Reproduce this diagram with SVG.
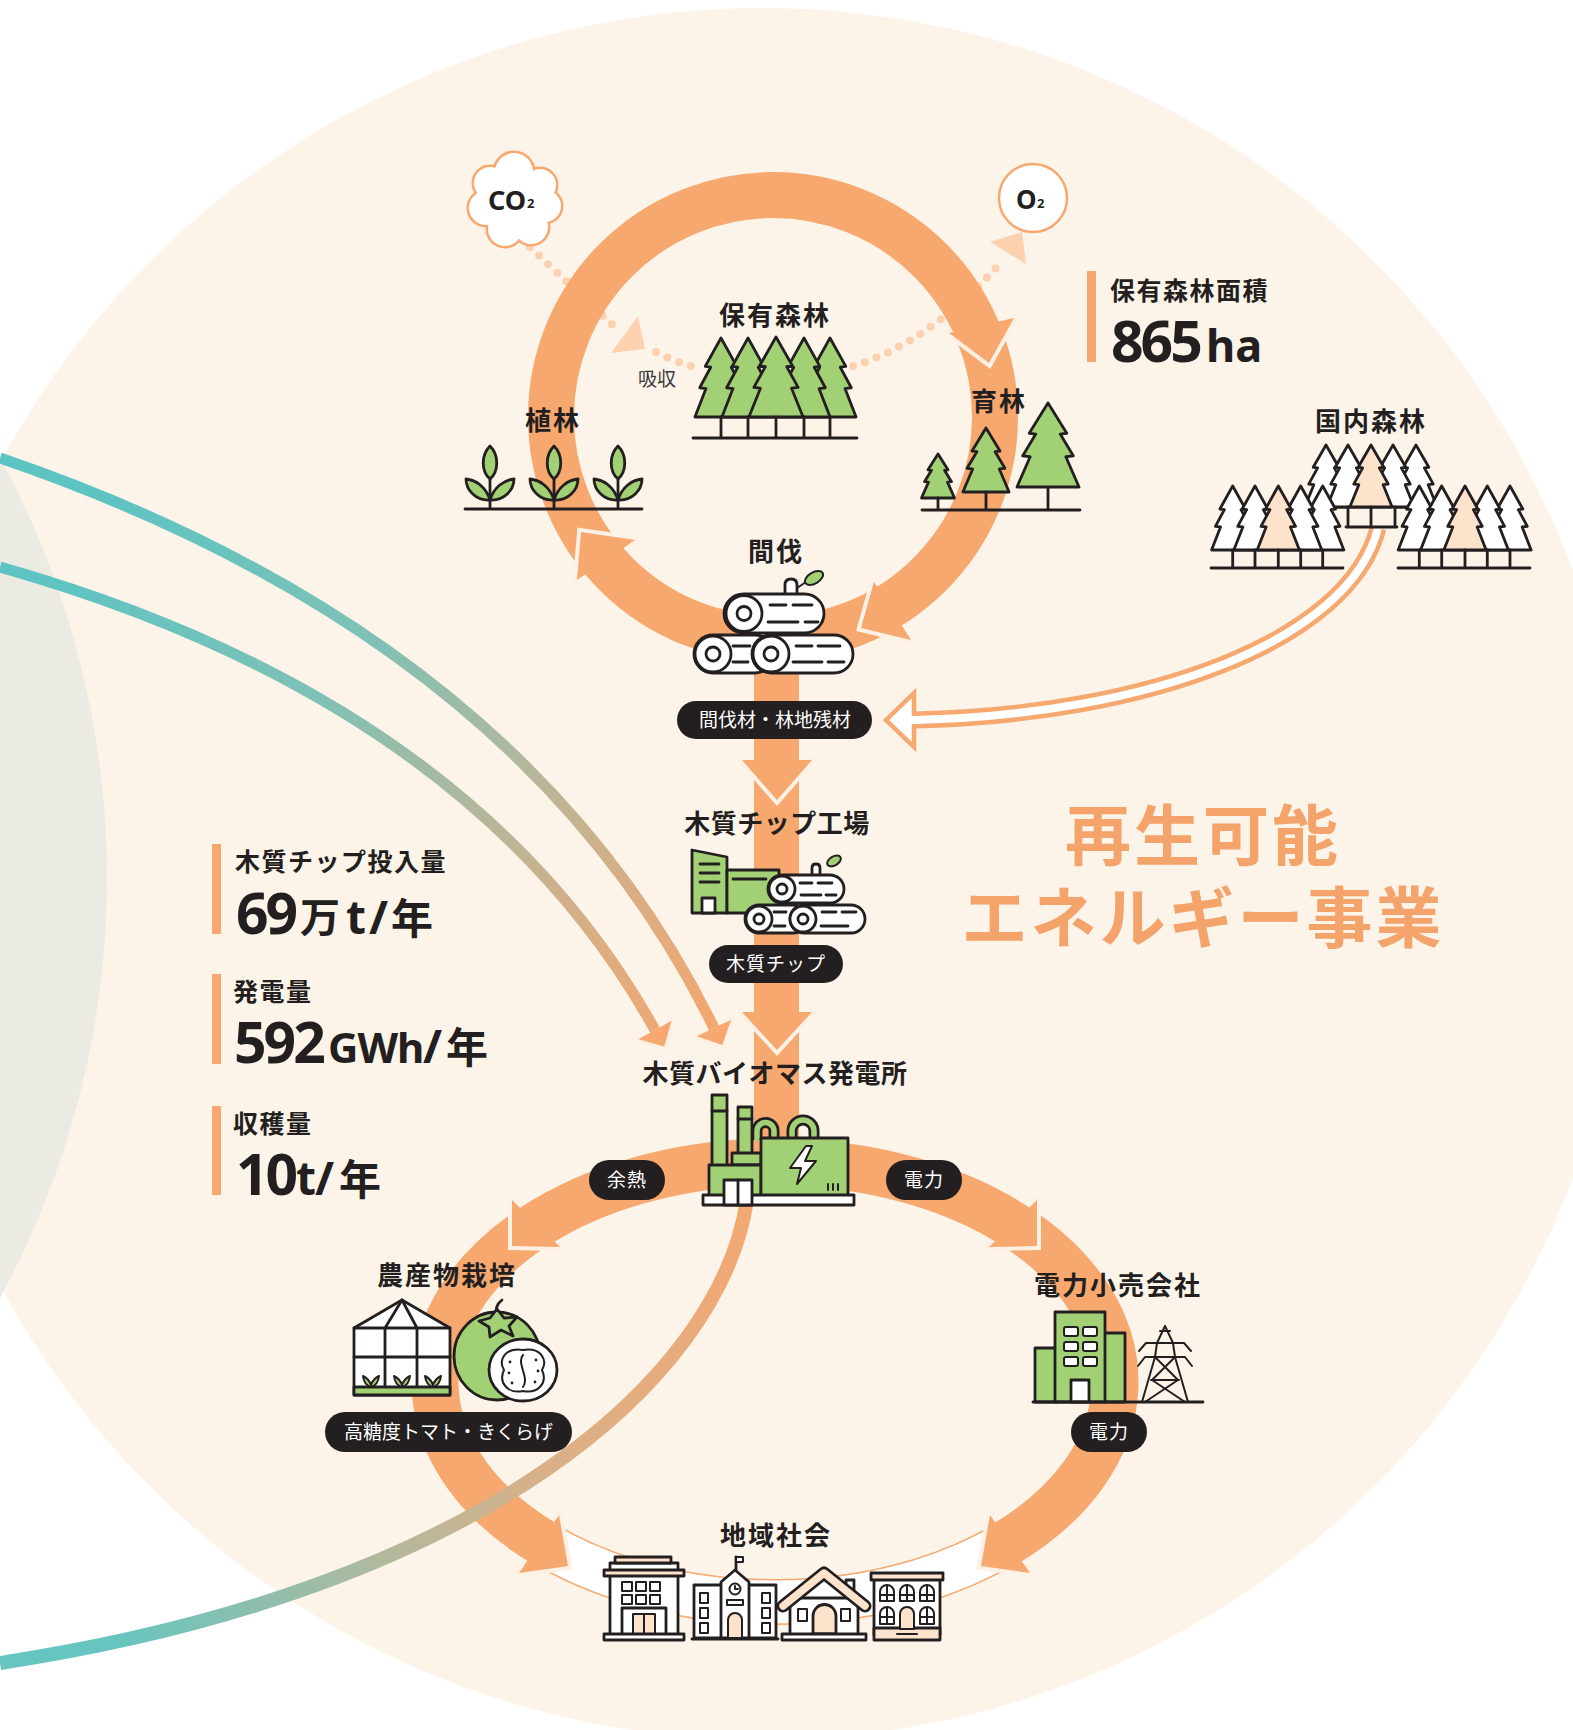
<svg xmlns="http://www.w3.org/2000/svg" width="1573" height="1730" viewBox="0 0 1573 1730">
<defs>
<style>
.lbl{font-family:"Noto Sans CJK JP","Noto Sans",sans-serif;font-weight:700;font-size:26px;fill:#231f20;letter-spacing:2px;text-anchor:middle}
.lbk{letter-spacing:0.5px}
.pill{fill:#231f20}
.ptx{font-family:"Noto Sans CJK JP",sans-serif;font-weight:400;font-size:19px;fill:#ffffff;letter-spacing:1px;text-anchor:middle}
.ptn{letter-spacing:0px}
.ic{stroke:#231f20;stroke-width:2.8;stroke-linejoin:round;stroke-linecap:round}
.g{fill:#a2d075}
.w{fill:#ffffff}
.pk{fill:#fde2cc}
.ln{fill:none;stroke:#231f20;stroke-width:2.8;stroke-linecap:round;stroke-linejoin:round}
.th{stroke-width:2}
.ah{fill:#f6a86f}
.ahl{fill:none;stroke:#fdf0e4;stroke-width:8;stroke-linejoin:miter;stroke-linecap:round}
.dot{fill:none;stroke:#fbd1b0;stroke-width:8;stroke-linecap:round;stroke-dasharray:0 12.5}
.dah{fill:#fbd1b0}
.num{font-family:"Noto Sans","Noto Sans CJK JP",sans-serif;font-weight:700;fill:#231f20}
.stl{font-family:"Noto Sans CJK JP",sans-serif;font-size:25px;letter-spacing:1.5px}
.cj{font-family:"Noto Sans CJK JP",sans-serif;letter-spacing:0px}
.dg{font-size:57px;letter-spacing:-3px}
.un{font-size:46px;letter-spacing:0px}
.big{font-family:"Noto Sans CJK JP",sans-serif;font-weight:700;font-size:66px;fill:#f4a36b;letter-spacing:3px;text-anchor:middle}
.bar{fill:#f6a86f}
.ring{fill:none;stroke:#f6a86f}
</style>
<path id="tree" d="M0,0 L20,36 L13,37 L27,63 L19,64 L33,100 L-33,100 L-19,64 L-27,63 L-13,37 L-20,36 Z" vector-effect="non-scaling-stroke"/>
<linearGradient id="gA" gradientUnits="userSpaceOnUse" x1="120" y1="500" x2="700" y2="1040">
<stop offset="0" stop-color="#5ec4c3"/>
<stop offset="0.35" stop-color="#7ec1b6"/>
<stop offset="0.6" stop-color="#b3b79c"/>
<stop offset="0.8" stop-color="#d8ae84"/>
<stop offset="1" stop-color="#f4a770"/>
</linearGradient>
<linearGradient id="gB" gradientUnits="userSpaceOnUse" x1="740" y1="1230" x2="120" y2="1650">
<stop offset="0" stop-color="#f2a873"/>
<stop offset="0.4" stop-color="#d9b088"/>
<stop offset="0.65" stop-color="#b0b99e"/>
<stop offset="1" stop-color="#66c5c0"/>
</linearGradient>
</defs>

<!-- backdrop -->
<rect width="1573" height="1730" fill="#ffffff"/>
<circle cx="762" cy="874" r="866" fill="#fdf4e9"/>
<circle cx="-771" cy="878" r="878" fill="#ebebe3"/>

<g id="connectors">
  <!-- incoming supply lines -->
  <path d="M0,458 Q523,637 714,1028" fill="none" stroke="url(#gA)" stroke-width="11"/>
  <path d="M0,567 Q472,701 655,1030" fill="none" stroke="url(#gA)" stroke-width="11"/>
  <path class="ahl" stroke-width="7" d="M696.9,1036.3 L722.3,1045.1 L731.1,1019.7"/>
  <polygon class="ah" points="696.9,1036.3 722.3,1045.1 731.1,1019.7"/>
  <path class="ahl" stroke-width="7" d="M638.4,1039.2 L664.2,1046.6 L671.6,1020.8"/>
  <polygon class="ah" points="638.4,1039.2 664.2,1046.6 671.6,1020.8"/>

  <!-- CO2 / O2 exchange -->
  <path class="dot" d="M530,247 L620,332"/>
  <polygon class="dah" points="638,316 645,349 611,353"/>
  <path class="dot" d="M656,352 Q675,362 694,367"/>
  <path class="dot" d="M853,366 C900,352 950,320 1003,260"/>
  <polygon class="dah" points="990,242 1022,232 1026,264"/>

  <!-- forest cycle -->
  <circle class="ring" cx="773" cy="417" r="222" stroke-width="46"/>
  <rect x="754" y="630" width="45" height="520" fill="#f6a86f"/>

  <!-- energy distribution loop -->
  <path d="M522.3,1529.2 A340,220 0 0 0 1027.7,1529.2" fill="none" stroke="#f6a86f" stroke-width="46"/>
  <path d="M522.3,1529.2 A340,220 0 0 0 1027.7,1529.2" fill="none" stroke="#ffffff" stroke-width="43"/>
  <path class="ring" d="M543.1,1542.9 A340,220 0 1 1 1006.9,1542.9" stroke-width="47"/>

  <!-- arrowheads on the bands -->
  <path class="ahl" d="M949,333 L989,363 L1014,318"/><polygon class="ah" points="949,333 989,363 1014,318"/>
  <path class="ahl" d="M874,582 L861,628 L911,640"/><polygon class="ah" points="874,582 861,628 911,640"/>
  <path class="ahl" d="M635,540 L581,532 L577,580"/><polygon class="ah" points="635,540 581,532 577,580"/>
  <path class="ahl" d="M742,760 L777,800 L812,760"/><polygon class="ah" points="742,760 777,800 812,760"/>
  <path class="ahl" d="M742,1012 L777,1050 L812,1012"/><polygon class="ah" points="742,1012 777,1050 812,1012"/>
  <path class="ahl" d="M512,1200 L512,1246 L560,1247"/><polygon class="ah" points="512,1200 512,1246 560,1247"/>
  <path class="ahl" d="M1037,1200 L1037,1246 L989,1247"/><polygon class="ah" points="1037,1200 1037,1246 989,1247"/>
  <path class="ahl" d="M559,1515 L568,1566 L519,1573"/><polygon class="ah" points="559,1515 568,1566 519,1573"/>
  <path class="ahl" d="M990,1515 L981,1566 L1030,1573"/><polygon class="ah" points="990,1515 981,1566 1030,1573"/>

  <!-- domestic forest supply (hollow double line) -->
  <polygon points="886,720 914,693 914,747" fill="#ffffff" stroke="#f6a86f" stroke-width="4.5" stroke-linejoin="miter"/>
  <path d="M1378,528 C1350,640 1150,715 914,720" fill="none" stroke="#f6a86f" stroke-width="17"/>
  <path d="M1378,528 C1350,640 1150,715 914,720 L898,720" fill="none" stroke="#ffffff" stroke-width="8"/>

  <!-- community link -->
  <path d="M747,1200 C720,1380 480,1590 0,1663" fill="none" stroke="url(#gB)" stroke-width="14"/>
</g>

<g id="co2">
  <g fill="none" stroke="#f6a86f" stroke-width="5">
    <circle cx="514" cy="172" r="19"/><circle cx="540" cy="185" r="16"/><circle cx="545" cy="206" r="16"/>
    <circle cx="531" cy="227" r="17"/><circle cx="505" cy="229" r="17"/><circle cx="486" cy="208" r="17"/>
    <circle cx="490" cy="183" r="16"/>
  </g>
  <g fill="#ffffff">
    <circle cx="514" cy="172" r="19"/><circle cx="540" cy="185" r="16"/><circle cx="545" cy="206" r="16"/>
    <circle cx="531" cy="227" r="17"/><circle cx="505" cy="229" r="17"/><circle cx="486" cy="208" r="17"/>
    <circle cx="490" cy="183" r="16"/><circle cx="514" cy="202" r="25"/>
  </g>
  <text class="num"><tspan x="488" y="210" font-size="27">CO</tspan><tspan x="527" y="208" font-size="13">2</tspan></text>
</g>

<g id="o2">
  <circle cx="1033" cy="198" r="34" fill="#ffffff" stroke="#f6a86f" stroke-width="2.5"/>
  <text class="num"><tspan x="1016" y="209" font-size="26">O</tspan><tspan x="1037" y="208" font-size="13">2</tspan></text>
</g>

<text x="657" y="386" font-family="Noto Sans CJK JP, sans-serif" font-size="19" fill="#3a3a3a" text-anchor="middle">吸収</text>

<g id="own-forest">
  <use href="#tree" class="ic g" transform="translate(721,338) scale(0.79)"/>
  <use href="#tree" class="ic g" transform="translate(830,338) scale(0.79)"/>
  <use href="#tree" class="ic g" transform="translate(748,338) scale(0.79)"/>
  <use href="#tree" class="ic g" transform="translate(804,338) scale(0.79)"/>
  <use href="#tree" class="ic g" transform="translate(776,337) scale(0.82,0.8)"/>
  <path class="ln" d="M721,417V438M748,417V438M776,417V438M804,417V438M830,417V438M693,438H857"/>
  <text class="lbl" x="775" y="325">保有森林</text>
</g>

<g id="planting">
  <path class="ln" d="M490,479V509M554,479V509M618,479V509M465,509H642"/>
  <path class="ic g" d="M490,446 C499,455 499,471 490,479 C481,471 481,455 490,446Z M490,500 C486,487 476,480 466,479 C466,490 476,501 490,500Z M490,500 C494,487 504,480 514,479 C514,490 504,501 490,500Z"/>
  <path class="ic g" d="M554,446 C563,455 563,471 554,479 C545,471 545,455 554,446Z M554,500 C550,487 540,480 530,479 C530,490 540,501 554,500Z M554,500 C558,487 568,480 578,479 C578,490 568,501 554,500Z"/>
  <path class="ic g" d="M618,446 C627,455 627,471 618,479 C609,471 609,455 618,446Z M618,500 C614,487 604,480 594,479 C594,490 604,501 618,500Z M618,500 C622,487 632,480 642,479 C642,490 632,501 618,500Z"/>
  <text class="lbl" x="553" y="430">植林</text>
</g>

<g id="tending">
  <use href="#tree" class="ic g" transform="translate(938,454) scale(0.5,0.44)"/>
  <use href="#tree" class="ic g" transform="translate(986,428) scale(0.7,0.64)"/>
  <use href="#tree" class="ic g" transform="translate(1048,403) scale(0.94,0.84)"/>
  <path class="ln" d="M938,498V510M986,492V510M1048,487V510M922,510H1080"/>
  <text class="lbl" x="999" y="411">育林</text>
</g>

<g id="area-stat">
  <rect class="bar" x="1087" y="271" width="9" height="91"/>
  <text class="num"><tspan class="stl" x="1110" y="300">保有森林面積</tspan><tspan class="dg" x="1111" y="362">865</tspan><tspan x="1206" y="362" font-size="45" letter-spacing="0">ha</tspan></text>
</g>

<g id="domestic-forest">
  <use href="#tree" class="ic w" transform="translate(1326,445) scale(0.64,0.62)"/>
  <use href="#tree" class="ic w" transform="translate(1416,445) scale(0.64,0.62)"/>
  <use href="#tree" class="ic w" transform="translate(1348,445) scale(0.64,0.62)"/>
  <use href="#tree" class="ic w" transform="translate(1393,445) scale(0.64,0.62)"/>
  <use href="#tree" class="ic pk" transform="translate(1371,445) scale(0.64,0.62)"/>
  <path class="ln" d="M1348,507V527M1371,507V527M1395,507V527M1346,527H1397"/>
  <use href="#tree" class="ic w" transform="translate(1232.7,486) scale(0.64)"/>
  <use href="#tree" class="ic w" transform="translate(1322.7,486) scale(0.64)"/>
  <use href="#tree" class="ic w" transform="translate(1255,486) scale(0.64)"/>
  <use href="#tree" class="ic w" transform="translate(1300.7,486) scale(0.64)"/>
  <use href="#tree" class="ic pk" transform="translate(1278.3,486) scale(0.64)"/>
  <path class="ln" d="M1232.7,550V568M1255,550V568M1278.3,550V568M1300.7,550V568M1322.7,550V568M1211,568H1343"/>
  <use href="#tree" class="ic w" transform="translate(1419.3,486) scale(0.64)"/>
  <use href="#tree" class="ic w" transform="translate(1510,486) scale(0.64)"/>
  <use href="#tree" class="ic w" transform="translate(1441.7,486) scale(0.64)"/>
  <use href="#tree" class="ic w" transform="translate(1487.3,486) scale(0.64)"/>
  <use href="#tree" class="ic pk" transform="translate(1465,486) scale(0.64)"/>
  <path class="ln" d="M1419.3,550V568M1441.7,550V568M1465,550V568M1487.3,550V568M1510,550V568M1398,568H1530"/>
  <text class="lbl" x="1371" y="431">国内森林</text>
</g>

<g id="thinning">
  <text class="lbl" x="776" y="561">間伐</text>
  <!-- log pile -->
  <path class="ic w" d="M785,596 V585 Q785,579 791,579 Q797,579 797,585 V596"/>
  <path class="ln th" d="M797,588 L806,582"/>
  <ellipse class="ic g th" cx="814" cy="578" rx="10" ry="5.5" transform="rotate(-30 814 578)"/>
  <rect class="ic w" x="724" y="594" width="100" height="39" rx="19.5"/>
  <circle class="ic w" cx="744" cy="613.5" r="18"/>
  <circle class="ic w" cx="744" cy="613.5" r="7"/>
  <path class="ln" d="M770,605H786M793,605H812M768,622H798M805,622H818"/>
  <rect class="ic w" x="694" y="635" width="80" height="38" rx="19"/>
  <circle class="ic w" cx="713" cy="654" r="18"/>
  <circle class="ic w" cx="713" cy="654" r="7"/>
  <path class="ln" d="M733,646H750M733,662H748"/>
  <rect class="ic w" x="752" y="635" width="101" height="38" rx="19"/>
  <circle class="ic w" cx="771" cy="654" r="18"/>
  <circle class="ic w" cx="771" cy="654" r="7"/>
  <path class="ln" d="M796,646H812M818,646H840M793,662H822M828,662H844"/>
</g>

<g id="thinned-wood">
  <rect class="pill" x="677" y="701" width="195" height="38" rx="19"/>
  <text class="ptx ptn" x="775" y="727">間伐材・林地残材</text>
</g>

<g id="chip-factory">
  <text class="lbl lbk" x="777" y="833">木質チップ工場</text>
  <path class="ic g" d="M692,850 L727,857 L727,913 L692,913 Z"/>
  <rect class="ic g" x="727" y="870" width="52" height="43"/>
  <path class="ln" d="M700,864H719M700,873H719M700,882H719M733,879H766"/>
  <rect class="ic w" x="702" y="898" width="13" height="15"/>
  <path class="ic w" d="M812,877 V868 Q812,864 816,864 Q820,864 820,868 V877"/>
  <ellipse class="ic g th" cx="834" cy="861" rx="7.5" ry="4.5" transform="rotate(-30 834 861)"/>
  <rect class="ic w" x="768" y="875" width="76" height="28" rx="14"/>
  <circle class="ic w" cx="782" cy="889" r="13"/>
  <circle class="ic w" cx="782" cy="889" r="5"/>
  <path class="ln" d="M800,883H812M818,883H832M801,895H821M826,895H836"/>
  <rect class="ic w" x="745" y="905" width="62" height="28" rx="14"/>
  <circle class="ic w" cx="759" cy="919" r="13"/>
  <circle class="ic w" cx="759" cy="919" r="5"/>
  <path class="ln" d="M774,912H786M774,926H785"/>
  <rect class="ic w" x="790" y="905" width="75" height="28" rx="14"/>
  <circle class="ic w" cx="803" cy="919" r="13"/>
  <circle class="ic w" cx="803" cy="919" r="5"/>
  <path class="ln" d="M822,912H836M842,912H856M821,926H848"/>
</g>

<g id="wood-chip">
  <rect class="pill" x="709" y="945" width="134" height="38" rx="19"/>
  <text class="ptx" x="776" y="971">木質チップ</text>
</g>

<g id="power-plant">
  <text class="lbl lbk" x="775" y="1083">木質バイオマス発電所</text>
  <path d="M757,1140 V1131 A8.5,8.5 0 0 1 774,1131 V1140 M792,1140 V1131 A11,11 0 0 1 814,1131 V1140" fill="none" stroke="#231f20" stroke-width="11"/>
  <path d="M757,1141 V1131 A8.5,8.5 0 0 1 774,1131 V1141 M792,1141 V1131 A11,11 0 0 1 814,1131 V1141" fill="none" stroke="#a2d075" stroke-width="5.5"/>
  <rect class="ic g" x="712" y="1095" width="15" height="72"/>
  <rect class="ic g" x="738" y="1107" width="14" height="48"/>
  <path class="ln" d="M712,1111H727M738,1119H752"/>
  <rect class="ic g" x="732" y="1153" width="29" height="12"/>
  <rect class="ic g" x="709" y="1165" width="52" height="31"/>
  <rect class="ic g" x="761" y="1138" width="87" height="58"/>
  <path class="ic w th" d="M806,1146 L790,1168 L801,1168 L797,1184 L816,1161 L805,1161 L812,1146 Z"/>
  <path class="ln th" d="M828,1184V1190M833,1184V1190M838,1184V1190"/>
  <rect class="ic w" x="703" y="1195" width="151" height="10"/>
  <rect class="ic w" x="724" y="1180" width="28" height="25"/>
  <path class="ln" d="M738,1180V1205"/>
</g>

<g id="waste-heat">
  <rect class="pill" x="589" y="1160" width="76" height="40" rx="20"/>
  <text class="ptx" x="627" y="1187">余熱</text>
</g>
<g id="power-out">
  <rect class="pill" x="886" y="1160" width="76" height="40" rx="20"/>
  <text class="ptx" x="924" y="1187">電力</text>
</g>

<g id="agriculture">
  <text class="lbl" x="447" y="1285">農産物栽培</text>
  <path class="ic w" d="M354,1328 L402,1300 L450,1328 V1395 H354 Z"/>
  <path class="ln" d="M354,1328H450M402,1300L385,1328M402,1300L417,1328M385,1328V1387M417,1328V1387M354,1357H450"/>
  <rect class="ic g" x="354" y="1387" width="96" height="8"/>
  <path class="ic g th" d="M363,1376 Q364,1385 371,1387 Q378,1385 379,1376 Q373,1379 371,1385 Q369,1379 363,1376Z M394,1376 Q395,1385 402,1387 Q409,1385 410,1376 Q404,1379 402,1385 Q400,1379 394,1376Z M425,1376 Q426,1385 433,1387 Q440,1385 441,1376 Q435,1379 433,1385 Q431,1379 425,1376Z"/>
  <ellipse class="ic g" cx="497" cy="1356" rx="43" ry="44"/>
  <path class="ln" d="M497,1316 Q494,1306 502,1300"/>
  <path class="ic g" d="M479,1321 L490,1318 L497,1309 L504,1318 L517,1317 L509,1326 L513,1336 L501,1330 L490,1337 L489,1327 Z"/>
  <ellipse class="ic w" cx="523" cy="1370" rx="34" ry="31"/>
  <path class="ln th" d="M523,1350 C505,1347 498,1360 504,1370 C498,1383 508,1394 523,1391 C538,1394 548,1383 542,1370 C548,1360 541,1347 523,1350 Z M523,1355 C516,1363 530,1378 523,1387"/>
  <g fill="#231f20">
    <circle cx="510" cy="1362" r="1.4"/><circle cx="509" cy="1373" r="1.4"/><circle cx="512" cy="1383" r="1.4"/>
    <circle cx="536" cy="1360" r="1.4"/><circle cx="538" cy="1371" r="1.4"/><circle cx="535" cy="1382" r="1.4"/>
  </g>
</g>
<g id="produce">
  <rect class="pill" x="325" y="1412" width="247" height="40" rx="20"/>
  <text class="ptx ptn" x="448.5" y="1439">高糖度トマト・きくらげ</text>
</g>

<g id="retailer">
  <text class="lbl" x="1118" y="1295">電力小売会社</text>
  <rect class="ic g" x="1035" y="1348" width="22" height="54"/>
  <rect class="ic g" x="1104" y="1333" width="21" height="69"/>
  <rect class="ic g" x="1055" y="1312" width="50" height="90"/>
  <g class="ic w th">
    <rect x="1064" y="1327" width="14" height="9" rx="2"/><rect x="1083" y="1327" width="14" height="9" rx="2"/>
    <rect x="1064" y="1342" width="14" height="9" rx="2"/><rect x="1083" y="1342" width="14" height="9" rx="2"/>
    <rect x="1064" y="1357" width="14" height="9" rx="2"/><rect x="1083" y="1357" width="14" height="9" rx="2"/>
  </g>
  <rect class="ic w" x="1071" y="1380" width="18" height="22"/>
  <path class="ln th" d="M1160,1331H1170M1165,1326 L1157,1343 L1155,1357 L1142,1402 M1165,1326 L1173,1343 L1175,1357 L1188,1402 M1139,1351 L1146,1343 L1184,1343 L1191,1351 M1138,1366 L1145,1357 L1185,1357 L1192,1366 M1155,1357 L1178,1380 M1175,1357 L1152,1380 M1151,1380 H1179 M1152,1380 L1185,1402 M1178,1380 L1145,1402"/>
  <path class="ln" d="M1033,1402H1203"/>
</g>
<g id="retail-power">
  <rect class="pill" x="1071" y="1412" width="76" height="40" rx="20"/>
  <text class="ptx" x="1109" y="1439">電力</text>
</g>

<g id="community">
  <text class="lbl" x="776" y="1545">地域社会</text>
  <!-- apartment -->
  <rect class="ic w" x="610" y="1563" width="68" height="72"/>
  <rect class="ic pk" x="615" y="1557" width="56" height="6"/>
  <rect class="ic pk" x="604" y="1570" width="80" height="6"/>
  <g class="ic w th">
    <rect x="622" y="1582" width="10" height="9"/><rect x="636" y="1582" width="10" height="9"/><rect x="650" y="1582" width="10" height="9"/>
    <rect x="622" y="1595" width="10" height="9"/><rect x="636" y="1595" width="10" height="9"/><rect x="650" y="1595" width="10" height="9"/>
  </g>
  <rect class="ic w" x="622" y="1608" width="44" height="27"/>
  <rect class="ic pk th" x="633" y="1614" width="22" height="21"/>
  <path class="ln th" d="M644,1614V1635"/>
  <rect class="ic w" x="604" y="1634" width="80" height="6"/>
  <!-- school -->
  <path class="ln" d="M736,1572V1557"/>
  <rect class="ic w th" x="736" y="1557" width="7" height="5"/>
  <rect class="ic w" x="694" y="1585" width="82" height="53"/>
  <path class="ic w" d="M721,1638 V1582 L735,1570 L749,1582 V1638 Z"/>
  <circle class="ic w th" cx="735" cy="1589" r="5.5"/>
  <path class="ln th" d="M735,1586V1589H738"/>
  <rect class="ic w th" x="727" y="1600" width="16" height="5"/>
  <path class="ic pk th" d="M728,1638 V1620 A7,7 0 0 1 742,1620 V1638 Z"/>
  <g class="ic w th">
    <rect x="700" y="1593" width="8" height="10"/><rect x="700" y="1608" width="8" height="10"/><rect x="700" y="1623" width="8" height="10"/>
    <rect x="762" y="1593" width="8" height="10"/><rect x="762" y="1608" width="8" height="10"/><rect x="762" y="1623" width="8" height="10"/>
  </g>
  <path class="ln" d="M692,1639H778"/>
  <!-- house -->
  <rect class="ic w" x="846" y="1580" width="8" height="16"/>
  <rect class="ic w" x="790" y="1598" width="68" height="37"/>
  <path d="M783,1606 L824,1573 L865,1606" fill="none" stroke="#231f20" stroke-width="13" stroke-linejoin="round" stroke-linecap="round"/>
  <path d="M783,1606 L824,1573 L865,1606" fill="none" stroke="#fde2cc" stroke-width="7.5" stroke-linejoin="round" stroke-linecap="round"/>
  <path class="ic pk" d="M813,1634 V1616 A11.5,11.5 0 0 1 836,1616 V1634 Z"/>
  <rect class="ic w th" x="798" y="1609" width="9" height="12"/>
  <rect class="ic w th" x="841" y="1609" width="9" height="12"/>
  <rect class="ic w" x="782" y="1634" width="84" height="6"/>
  <!-- townhouse -->
  <rect class="ic w" x="874" y="1578" width="66" height="57"/>
  <rect class="ic pk" x="871" y="1573" width="72" height="7"/>
  <g class="ic w th">
    <path d="M880,1601 V1592 A7,7 0 0 1 894,1592 V1601 Z"/>
    <path d="M900,1601 V1592 A7,7 0 0 1 914,1592 V1601 Z"/>
    <path d="M920,1601 V1592 A7,7 0 0 1 934,1592 V1601 Z"/>
    <path d="M880,1624 V1614 A7,7 0 0 1 894,1614 V1624 Z"/>
    <path d="M920,1624 V1614 A7,7 0 0 1 934,1614 V1624 Z"/>
  </g>
  <path class="ln th" d="M887,1585V1601M907,1585V1601M927,1585V1601M880,1595H894M900,1595H914M920,1595H934M887,1607V1624M927,1607V1624M880,1617H894M920,1617H934"/>
  <rect class="ic pk" x="874" y="1628" width="66" height="12"/>
  <path class="ic pk th" d="M900,1629 V1614 A7,7 0 0 1 914,1614 V1629 Z"/>
  <path class="ln th" d="M897,1634H917"/>
</g>

<g id="stats">
  <rect class="bar" x="212" y="844" width="9" height="90"/>
  <text class="num"><tspan class="stl" x="235" y="871">木質チップ投入量</tspan><tspan class="dg" x="236" y="934">69</tspan><tspan class="cj" x="300" y="932" font-size="40">万</tspan><tspan class="un" x="346" y="934">t</tspan><tspan class="un" x="369" y="934">/</tspan><tspan class="cj" x="391" y="934" font-size="42">年</tspan></text>

  <rect class="bar" x="212" y="974" width="9" height="90"/>
  <text class="num"><tspan class="stl" x="233" y="1001">発電量</tspan><tspan class="dg" x="234" y="1063">592</tspan><tspan x="328" y="1063" font-size="42" letter-spacing="-1">GWh</tspan><tspan class="un" x="423" y="1063">/</tspan><tspan class="cj" x="446" y="1063" font-size="42">年</tspan></text>

  <rect class="bar" x="212" y="1106" width="9" height="89"/>
  <text class="num"><tspan class="stl" x="233" y="1133">収穫量</tspan><tspan class="dg" x="236" y="1195">10</tspan><tspan class="un" x="296" y="1195">t</tspan><tspan class="un" x="315" y="1195">/</tspan><tspan class="cj" x="339" y="1195" font-size="42">年</tspan></text>
</g>

<g id="title">
  <text class="big"><tspan x="1203" y="860">再生可能</tspan><tspan x="1203" y="942">エネルギー事業</tspan></text>
</g>
</svg>
